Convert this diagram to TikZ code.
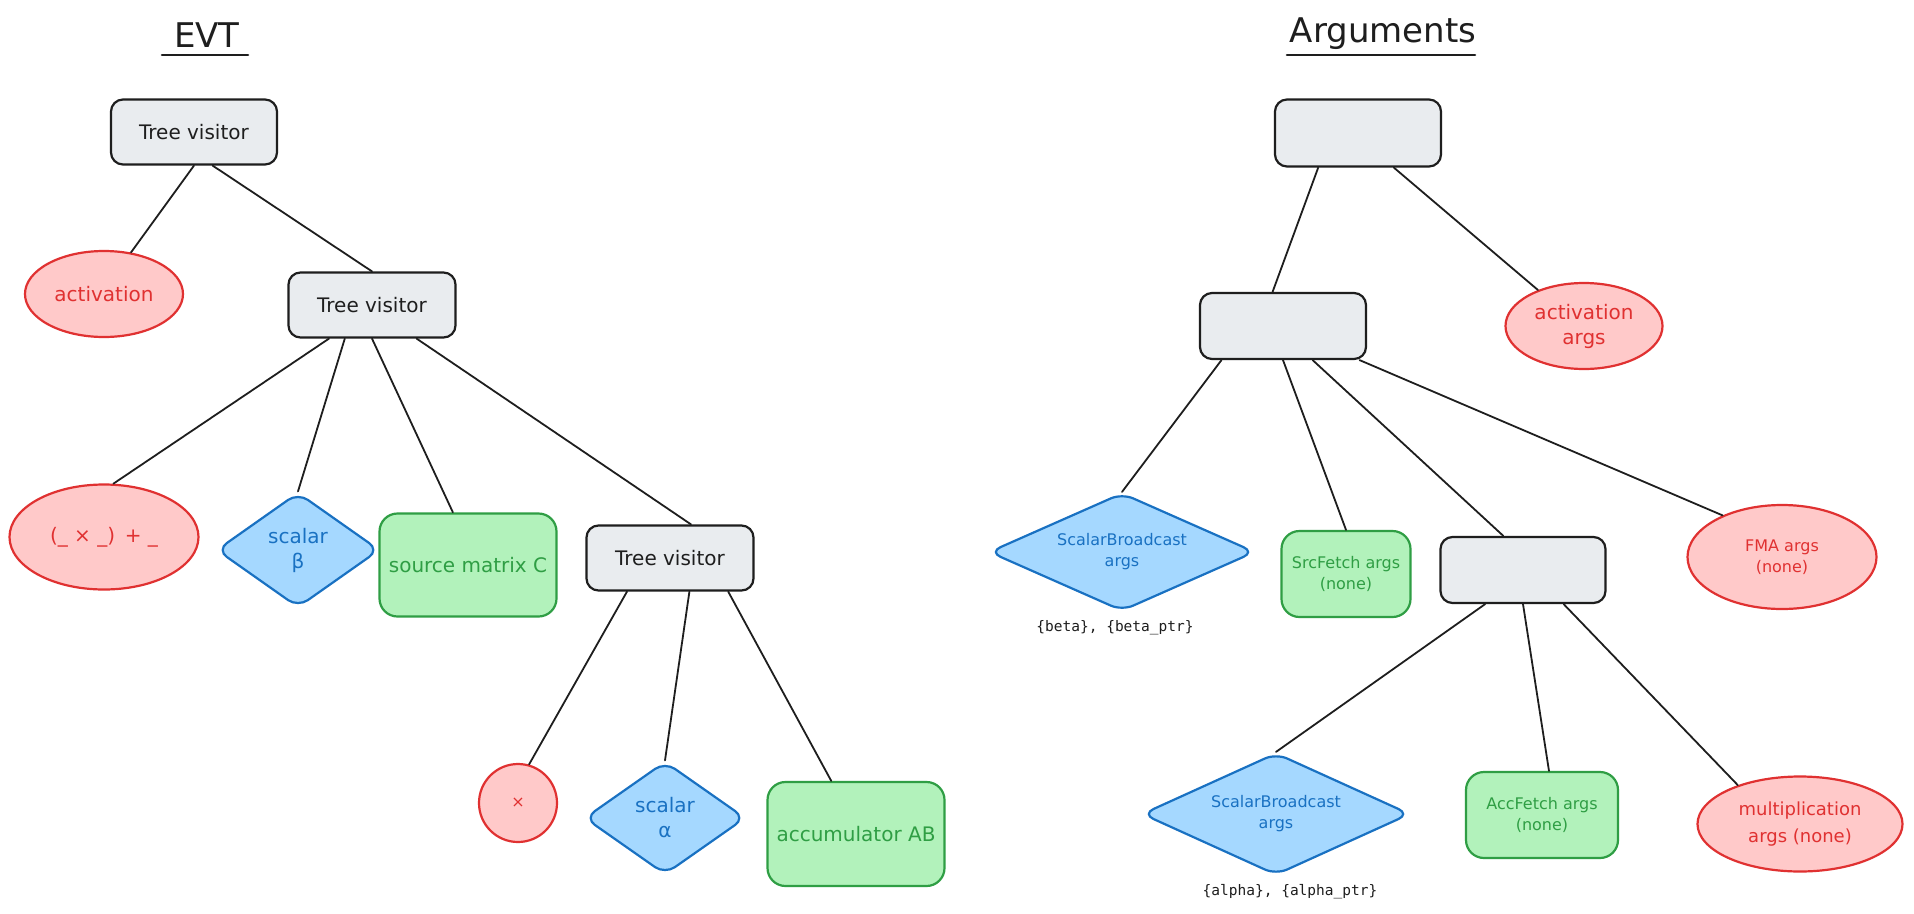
\documentclass[tikz,border=0pt]{standalone}
\usepackage{fontspec}
\setmainfont{DejaVu Sans}
\newfontfamily\monofont{DejaVu Sans Mono}
\usetikzlibrary{shapes.geometric}
\definecolor{ink}{HTML}{1E1E1E}
\definecolor{grayfill}{HTML}{E9ECEF}
\definecolor{redline}{HTML}{E03131}
\definecolor{redfill}{HTML}{FFC9C9}
\definecolor{blueline}{HTML}{1971C2}
\definecolor{bluefill}{HTML}{A5D8FF}
\definecolor{greenline}{HTML}{2F9E44}
\definecolor{greenfill}{HTML}{B2F2BB}
\begin{document}
\begin{tikzpicture}[x=1pt,y=-1pt,
  base/.style={line width=2.2pt, inner sep=0pt, align=center, font=\fontsize{20}{25}\selectfont},
  gbox/.style={base, rectangle, rounded corners=12pt, draw=ink, fill=grayfill, text=ink},
  rell/.style={base, ellipse, draw=redline, fill=redfill, text=redline},
  bdia/.style={base, diamond, rounded corners=12pt, draw=blueline, fill=bluefill, text=blueline},
  grect/.style={base, rectangle, rounded corners=18pt, draw=greenline, fill=greenfill, text=greenline},
  smalltext/.style={font=\fontsize{16}{21}\selectfont},
  conn/.style={draw=ink, line width=1.8pt, line cap=round},
  title/.style={font=\fontsize{34}{40}\selectfont, text=ink, inner sep=0pt},
  uline/.style={draw=ink, line width=2.6pt, line cap=round},
  lbl/.style={font=\monofont\fontsize{14.5}{17}\selectfont, text=ink, inner sep=0pt}
]
\useasboundingbox[fill=white] (0,0) rectangle (1914,913);

% titles
\node[title] (evt) at (207,35) {EVT};
\coordinate (evtA) at (162,55);
\coordinate (evtB) at (248,55);
\draw[uline] (evtA) -- (evtB);
\node[title] (args) at (1383,34) {Arguments};
\coordinate (argA) at (1287,55);
\coordinate (argB) at (1475,55);
\draw[uline] (argA) -- (argB);

% ---------------- left tree ----------------
\node[gbox, minimum width=166pt, minimum height=65pt] (tv1) at (194,132) {Tree visitor};
\node[rell, minimum width=158pt, minimum height=86pt] (act) at (104,294) {activation};
\node[gbox, minimum width=167pt, minimum height=65pt] (tv2) at (372,305) {Tree visitor};
\node[rell, minimum width=189pt, minimum height=105pt] (fma) at (104,537) {(\_ × \_)\, + \_};
\node[bdia, aspect=1.4, minimum width=163pt, minimum height=115pt] (beta) at (298,550) {scalar\\β};
\node[grect, minimum width=177pt, minimum height=103pt] (srcC) at (468,565) {source matrix C};
\node[gbox, minimum width=167pt, minimum height=65pt] (tv3) at (670,558) {Tree visitor};
\node[rell, circle, minimum size=78pt, font=\fontsize{16}{20}\selectfont] (mul) at (518,803) {×};
\node[bdia, aspect=1.4, minimum width=161pt, minimum height=113pt] (alpha) at (665,818) {scalar\\α};
\node[grect, minimum width=177pt, minimum height=104pt] (acc) at (856,834) {accumulator AB};

\draw[conn] (tv1.south) -- (act.57);
\draw[conn] (tv1.-61) -- (tv2.north);
\draw[conn] (tv2.-142) -- (fma.80);
\draw[conn] (tv2.-129) -- (beta.north);
\draw[conn] (tv2.south) -- (srcC.106);
\draw[conn] (tv2.-37) -- (tv3.58);
\draw[conn] (tv3.-142) -- (mul.74);
\draw[conn] (tv3.-60) -- (alpha.north);
\draw[conn] (tv3.-30) -- (acc.115);

% ---------------- right tree ----------------
\node[gbox, minimum width=166pt, minimum height=67pt] (r1) at (1358,133) {};
\node[gbox, minimum width=166pt, minimum height=66pt] (r2) at (1283,326) {};
\node[rell, minimum width=157pt, minimum height=86pt] (actargs) at (1584,326) {activation\\args};
\node[bdia, smalltext, aspect=2.25, minimum width=266pt, minimum height=118pt] (sbb) at (1122,552) {ScalarBroadcast\\args};
\node[lbl] (betalbl) at (1115,628) {\{beta\}, \{beta\_ptr\}};
\node[grect, smalltext, minimum width=129pt, minimum height=86pt] (src) at (1346,574) {SrcFetch args\\(none)};
\node[gbox, minimum width=165pt, minimum height=66pt] (r3) at (1523,570) {};
\node[rell, smalltext, minimum width=189pt, minimum height=104pt] (fmaargs) at (1782,557) {FMA args\\(none)};
\node[bdia, smalltext, aspect=2.2, minimum width=268pt, minimum height=122pt] (sba) at (1276,814) {ScalarBroadcast\\args};
\node[lbl] (alphalbl) at (1290,892) {\{alpha\}, \{alpha\_ptr\}};
\node[grect, smalltext, minimum width=152pt, minimum height=86pt] (accargs) at (1542,815) {AccFetch args\\(none)};
\node[rell, font=\fontsize{18}{27}\selectfont, minimum width=205pt, minimum height=95pt] (mulargs) at (1800,824) {multiplication\\args (none)};

\draw[conn] (r1.-139) -- (r2.107);
\draw[conn] (r1.-44) -- (actargs.142);
\draw[conn] (r2.-151) -- (sbb.north);
\draw[conn] (r2.south) -- (src.north);
\draw[conn] (r2.-49) -- (r3.120);
\draw[conn] (r2.-24) -- (fmaargs.145);
\draw[conn] (r3.-138) -- (sba.north);
\draw[conn] (r3.south) -- (accargs.81);
\draw[conn] (r3.-40) -- (mulargs.148);
\end{tikzpicture}
\end{document}
